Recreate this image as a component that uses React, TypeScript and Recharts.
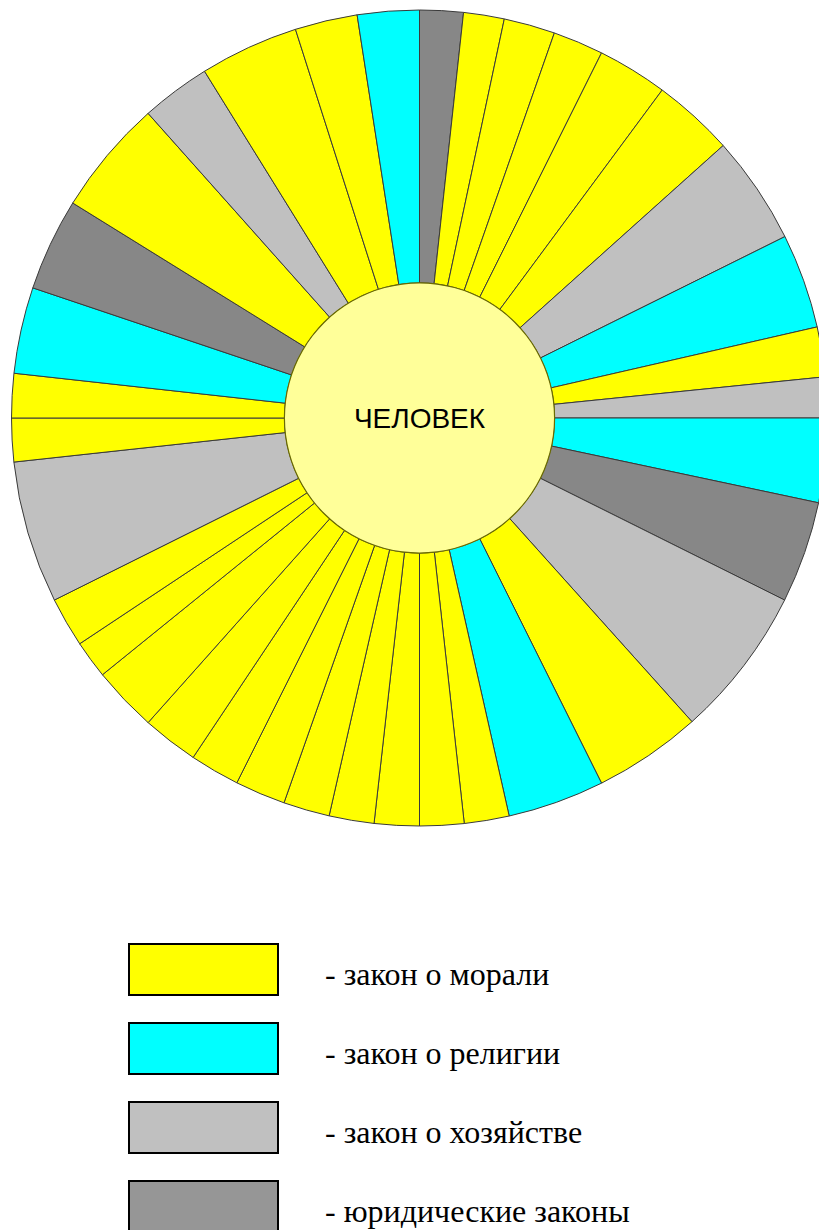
import { PieChart, Pie, Cell } from "recharts";

// slice order runs clockwise from 12 o'clock; values are the slice angles in degrees
const sliceValues = [
  6.2, 5.8, 7.3, 7.2, 10.0, 11.6, 15.5, 13.5, 7.1, 5.8, 12.0, 14.5, 21.6, 15.4,
  13.8, 6.4, 6.3, 6.4, 6.4, 6.6, 7.2, 7.1, 8.0, 9.3, 5.4, 7.1, 20.3, 6.2, 6.3,
  12.3, 13.2, 16.5, 9.9, 14.1, 8.9, 8.8,
];

const sliceKinds = [
  "law", "moral", "moral", "moral", "moral", "moral", "economy", "religion",
  "moral", "economy", "religion", "law", "economy", "moral", "religion",
  "moral", "moral", "moral", "moral", "moral", "moral", "moral", "moral",
  "moral", "moral", "moral", "economy", "moral", "moral", "religion", "law",
  "moral", "economy", "moral", "moral", "religion",
];

const kinds = ["moral", "religion", "economy", "law"];
const kindLabels = [
  "- закон о морали",
  "- закон о религии",
  "- закон о хозяйстве",
  "- юридические законы",
];

const centerLabel = "ЧЕЛОВЕК";

const SLICE_COLORS: Record<string, string> = {
  moral: "#ffff00",
  religion: "#00ffff",
  economy: "#c0c0c0",
  law: "#878787",
};

const LEGEND_COLORS: Record<string, string> = {
  moral: "#ffff00",
  religion: "#00ffff",
  economy: "#c0c0c0",
  law: "#969696",
};

const data = sliceValues.map((value, i) => ({
  name: `s${i + 1}`,
  value,
  kind: sliceKinds[i],
}));

const centerData = [{ name: centerLabel, value: 1 }];

const CX = 419.5;
const CY = 418;

// draws the word in the middle of the hub, using the pie's own centre
const renderCenterLabel = (props: { cx: number; cy: number }) => (
  <text
    x={props.cx}
    y={props.cy}
    textAnchor="middle"
    dominantBaseline="central"
    fill="#000"
    style={{ fontFamily: "Liberation Sans, Arial, sans-serif", fontSize: 28 }}
  >
    {centerLabel}
  </text>
);

export default function App() {
  return (
    <div
      style={{
        position: "absolute",
        left: 0,
        top: 0,
        width: 819,
        height: 1230,
        background: "#ffffff",
        overflow: "hidden",
      }}
    >
      <PieChart
        width={819}
        height={1230}
        margin={{ top: 0, right: 0, bottom: 0, left: 0 }}
      >
        <Pie
          data={data}
          dataKey="value"
          cx={CX}
          cy={CY}
          innerRadius={135}
          outerRadius={408}
          startAngle={90}
          endAngle={-270}
          paddingAngle={0}
          stroke="#3a3a3a"
          strokeWidth={1}
          isAnimationActive={false}
        >
          {data.map((d) => (
            <Cell key={d.name} fill={SLICE_COLORS[d.kind]} />
          ))}
        </Pie>
        {/* hub */}
        <Pie
          data={centerData}
          dataKey="value"
          cx={CX}
          cy={CY}
          innerRadius={0}
          outerRadius={135}
          startAngle={90}
          endAngle={-270}
          fill="#ffff99"
          stroke="none"
          label={renderCenterLabel}
          labelLine={false}
          isAnimationActive={false}
        />
        {/* hub rim */}
        <Pie
          data={centerData}
          dataKey="value"
          cx={CX}
          cy={CY}
          innerRadius={134.5}
          outerRadius={135.7}
          startAngle={90}
          endAngle={-270}
          fill="#6b6b00"
          stroke="none"
          isAnimationActive={false}
        />
      </PieChart>

      {kinds.map((k, i) => (
        <div
          key={k}
          style={{ position: "absolute", left: 0, top: 943 + i * 79, height: 53, width: 819 }}
        >
          <div
            style={{
              position: "absolute",
              left: 128,
              top: 0,
              width: 151,
              height: 53,
              boxSizing: "border-box",
              border: "2px solid #000",
              background: LEGEND_COLORS[k],
            }}
          />
          <div
            style={{
              position: "absolute",
              left: 325,
              top: 5,
              lineHeight: "53px",
              fontFamily: "Liberation Serif, Times New Roman, serif",
              fontSize: 32,
              color: "#000",
              whiteSpace: "pre",
            }}
          >
            {kindLabels[i]}
          </div>
        </div>
      ))}
    </div>
  );
}
